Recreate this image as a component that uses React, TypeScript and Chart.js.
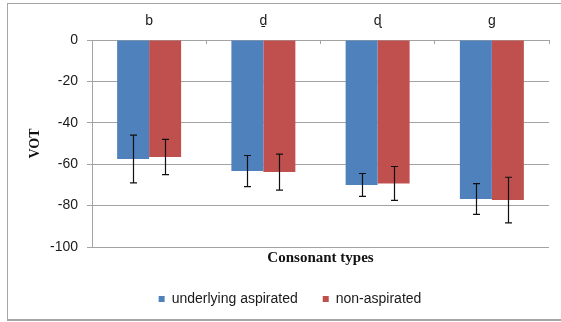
import React, { useEffect, useRef } from "react";
import { Chart, registerables } from "chart.js";

Chart.register(...registerables);

const categories = ["b", "ḏ", "ɖ", "g"];
const seriesNames = ["underlying aspirated", "non-aspirated"];
const aspirated = [-57.5, -63.3, -70.0, -76.8];
const aspiratedErr = [11.5, 7.5, 5.5, 7.4];
const nonAspirated = [-56.5, -63.8, -69.3, -77.3];
const nonAspiratedErr = [8.5, 8.7, 8.2, 11.0];
const yMin = -100;
const yMax = 0;
const yStep = 20;
const xTitle = "Consonant types";
const yTitle = "VOT";

const BLUE = "#4F81BD";
const RED = "#C0504D";
const GRID = "#a3a3a3";
const SANS = "'Liberation Sans', 'DejaVu Sans', Arial, sans-serif";
const SERIF = "'Liberation Serif', 'DejaVu Serif', serif";

const errorBarPlugin = {
  id: "errorBars",
  afterDatasetsDraw(chart: any) {
    const { ctx } = chart;
    const yScale = chart.scales.y;
    const errs = [aspiratedErr, nonAspiratedErr];
    chart.data.datasets.forEach((ds: any, di: number) => {
      const meta = chart.getDatasetMeta(di);
      meta.data.forEach((bar: any, i: number) => {
        const v = ds.data[i];
        const e = errs[di][i];
        const x = Math.round(bar.x) + 0.5;
        const yT = yScale.getPixelForValue(v + e);
        const yB = yScale.getPixelForValue(v - e);
        ctx.save();
        ctx.strokeStyle = "#111";
        ctx.lineWidth = 1.2;
        ctx.beginPath();
        ctx.moveTo(x, yT);
        ctx.lineTo(x, yB);
        ctx.moveTo(x - 3.5, yT);
        ctx.lineTo(x + 3.5, yT);
        ctx.moveTo(x - 3.5, yB);
        ctx.lineTo(x + 3.5, yB);
        ctx.stroke();
        ctx.restore();
      });
    });
  },
};

export default function App() {
  const ref = useRef<HTMLCanvasElement | null>(null);

  useEffect(() => {
    document.body.style.margin = "0";
    document.body.style.overflow = "hidden";
    const chart = new Chart(ref.current as HTMLCanvasElement, {
      type: "bar",
      data: {
        labels: categories,
        datasets: [
          { label: seriesNames[0], data: aspirated, backgroundColor: BLUE, borderWidth: 0, xAxisID: "x" },
          { label: seriesNames[1], data: nonAspirated, backgroundColor: RED, borderWidth: 0, xAxisID: "x" },
        ],
      },
      options: {
        responsive: false,
        animation: false,
        devicePixelRatio: 1,
        datasets: { bar: { categoryPercentage: 0.56, barPercentage: 1 } },
        layout: { padding: { left: 31, right: 12, top: 4, bottom: 6 } },
        plugins: {
          tooltip: { enabled: false },
          title: { display: false },
          legend: {
            position: "bottom",
            labels: {
              boxWidth: 6,
              boxHeight: 6,
              padding: 25,
              color: "#1a1a1a",
              font: { family: SANS, size: 14 },
            },
          },
        },
        scales: {
          x: {
            position: "top",
            grid: { display: true, drawOnChartArea: false, color: GRID, tickLength: -4 },
            border: { display: true, color: GRID },
            ticks: { color: "#1a1a1a", padding: 14.6, font: { family: SANS, size: 14 } },
            afterFit: (s: any) => { s.height = 36; },
          },
          x2: {
            position: "bottom",
            type: "category",
            labels: categories,
            grid: { display: false, drawTicks: false },
            border: { display: false },
            ticks: { display: false },
            title: {
              display: true,
              text: xTitle,
              color: "#111",
              padding: { top: 2, bottom: 0 },
              font: { family: SERIF, size: 15, weight: "bold" },
            },
            afterFit: (s: any) => { s.height = 20; },
          },
          y: {
            min: yMin,
            max: yMax,
            ticks: { stepSize: yStep, color: "#1a1a1a", padding: 9, font: { family: SANS, size: 14 } },
            grid: { color: GRID, tickLength: 5 },
            border: { display: true, color: GRID },
            title: {
              display: true,
              text: yTitle,
              color: "#111",
              padding: { top: -4.4, bottom: 0 },
              font: { family: SERIF, size: 14, weight: "bold" },
            },
            afterFit: (s: any) => { s.width = 61; },
          },
        },
      },
      plugins: [errorBarPlugin],
    });
    return () => chart.destroy();
  }, []);

  return (
    <div style={{ position: "fixed", left: 0, top: 0, width: 561, height: 322, background: "#fff" }}>
      <div
        style={{
          position: "absolute",
          left: 7,
          top: 3,
          width: 554,
          height: 318,
          boxSizing: "border-box",
          borderLeft: "1px solid #a6a6a6",
          borderTop: "1px solid #a6a6a6",
          borderBottom: "2px solid #a6a6a6",
        }}
      />
      <canvas ref={ref} width={561} height={322} style={{ position: "absolute", left: 0, top: 0 }} />
    </div>
  );
}
